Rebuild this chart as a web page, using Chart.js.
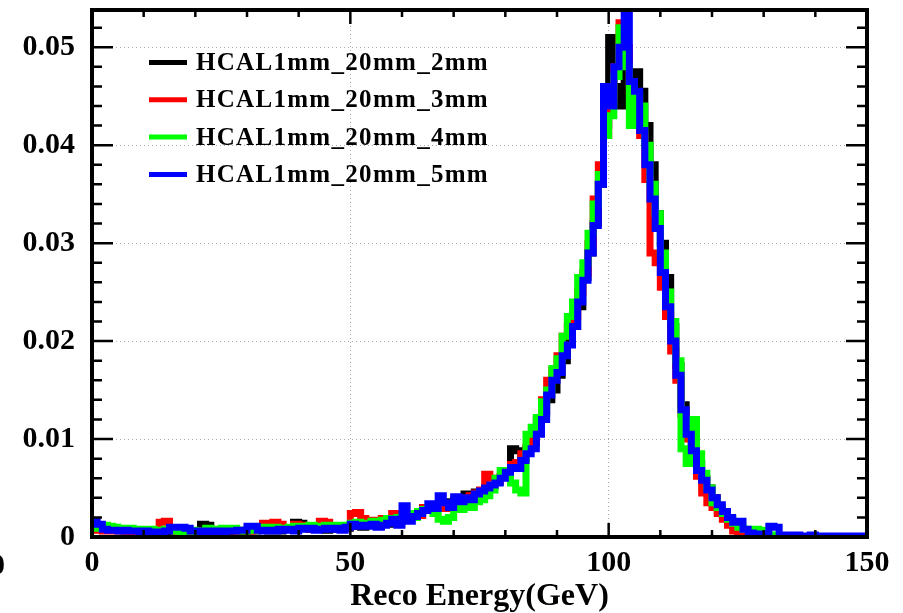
<!DOCTYPE html>
<html>
<head>
<meta charset="utf-8">
<script src="https://cdn.jsdelivr.net/npm/chart.js@4.4.1/dist/chart.umd.min.js"></script>
<style>
  body { margin: 0; background: #fff; }
  #wrap { width: 903px; height: 613px; }
</style>
</head>
<body>
<div id="wrap"><canvas id="histChart"></canvas></div>
<script>
// Reco energy histograms, 1 GeV bins from 0 to 150 GeV
const binStart = 0;
const binWidth = 1;

const seriesNames = ['HCAL1mm_20mm_2mm', 'HCAL1mm_20mm_3mm', 'HCAL1mm_20mm_4mm', 'HCAL1mm_20mm_5mm'];
const seriesColors = ['#000000', '#ff0000', '#00ff00', '#0000ff'];

const xTickLabels = ['0', '50', '100', '150'];
const yTickLabels = ['0', '0.01', '0.02', '0.03', '0.04', '0.05'];

const h2mm = [
  0.0012, 0.0010, 0.0009, 0.0008, 0.0007, 0.0007, 0.0006, 0.0006, 0.0007, 0.0006,
  0.0005, 0.0006, 0.0005, 0.0006, 0.0005, 0.0007, 0.0006, 0.0006, 0.0005, 0.0006,
  0.0005, 0.0013, 0.0012, 0.0006, 0.0005, 0.0006, 0.0005, 0.0007, 0.0006, 0.0005,
  0.0007, 0.0006, 0.0008, 0.0007, 0.0006, 0.0007, 0.0006, 0.0008, 0.0009, 0.0015,
  0.0014, 0.0009, 0.0008, 0.0010, 0.0008, 0.0007, 0.0009, 0.0008, 0.0010, 0.0009,
  0.0011, 0.0013, 0.0010, 0.0012, 0.0013, 0.0011, 0.0014, 0.0015, 0.0013, 0.0016,
  0.0018, 0.0020, 0.0022, 0.0026, 0.0030, 0.0028, 0.0033, 0.0030, 0.0036, 0.0032,
  0.0038, 0.0035, 0.0044, 0.0042, 0.0046, 0.0044, 0.0050, 0.0052, 0.0056, 0.0061,
  0.0064, 0.0090, 0.0088, 0.0080, 0.0090, 0.0096, 0.0120, 0.0128, 0.0140, 0.0150,
  0.0165, 0.0180, 0.0200, 0.0215, 0.0235, 0.0265, 0.0290, 0.0320, 0.0360, 0.0420,
  0.0510, 0.0460, 0.0440, 0.0490, 0.0470, 0.0475, 0.0455, 0.0420, 0.0380, 0.0330,
  0.0300, 0.0265, 0.0215, 0.0175, 0.0135, 0.0110, 0.0090, 0.0075, 0.0060, 0.0050,
  0.0040, 0.0030, 0.0024, 0.0018, 0.0012, 0.0006, 0.0003, 0.0002, 0.0001, 0.0001,
  0, 0, 0, 0, 0, 0, 0, 0, 0, 0,
  0, 0, 0, 0, 0, 0, 0, 0, 0, 0
];

const h3mm = [
  0.0008, 0.0007, 0.0006, 0.0007, 0.0006, 0.0007, 0.0006, 0.0005, 0.0006, 0.0005,
  0.0006, 0.0005, 0.0006, 0.0015, 0.0016, 0.0007, 0.0006, 0.0005, 0.0006, 0.0005,
  0.0006, 0.0005, 0.0006, 0.0005, 0.0006, 0.0005, 0.0006, 0.0007, 0.0006, 0.0007,
  0.0006, 0.0007, 0.0008, 0.0014, 0.0013, 0.0015, 0.0013, 0.0008, 0.0009, 0.0013,
  0.0012, 0.0009, 0.0008, 0.0011, 0.0016, 0.0015, 0.0010, 0.0009, 0.0011, 0.0010,
  0.0024, 0.0025, 0.0019, 0.0017, 0.0015, 0.0017, 0.0019, 0.0016, 0.0024, 0.0023,
  0.0020, 0.0021, 0.0024, 0.0022, 0.0030, 0.0028, 0.0032, 0.0030, 0.0029, 0.0034,
  0.0036, 0.0040, 0.0038, 0.0042, 0.0045, 0.0048, 0.0064, 0.0060, 0.0058, 0.0062,
  0.0068, 0.0074, 0.0076, 0.0085, 0.0092, 0.0100, 0.0112, 0.0140, 0.0160, 0.0170,
  0.0185, 0.0205, 0.0215, 0.0225, 0.0250, 0.0270, 0.0300, 0.0345, 0.0380, 0.0410,
  0.0450, 0.0480, 0.0525, 0.0500, 0.0455, 0.0440, 0.0410, 0.0365, 0.0290, 0.0280,
  0.0255, 0.0225, 0.0190, 0.0160, 0.0125, 0.0100, 0.0078, 0.0062, 0.0045, 0.0035,
  0.0030, 0.0024, 0.0018, 0.0012, 0.0006, 0.0002, 0.0001, 0, 0, 0,
  0, 0, 0, 0, 0, 0, 0, 0, 0, 0,
  0, 0, 0, 0, 0, 0, 0, 0, 0, 0
];

const h4mm = [
  0.0010, 0.0009, 0.0012, 0.0011, 0.0010, 0.0009, 0.0008, 0.0009, 0.0007, 0.0008,
  0.0007, 0.0008, 0.0006, 0.0007, 0.0008, 0.0007, 0.0006, 0.0005, 0.0006, 0.0007,
  0.0005, 0.0006, 0.0009, 0.0008, 0.0007, 0.0009, 0.0008, 0.0009, 0.0007, 0.0006,
  0.0008, 0.0007, 0.0009, 0.0010, 0.0009, 0.0010, 0.0009, 0.0008, 0.0010, 0.0011,
  0.0010, 0.0011, 0.0012, 0.0010, 0.0011, 0.0012, 0.0011, 0.0012, 0.0011, 0.0012,
  0.0014, 0.0015, 0.0013, 0.0014, 0.0016, 0.0015, 0.0017, 0.0019, 0.0016, 0.0020,
  0.0022, 0.0024, 0.0020, 0.0026, 0.0028, 0.0030, 0.0024, 0.0018, 0.0016, 0.0020,
  0.0032, 0.0028, 0.0034, 0.0030, 0.0036, 0.0038, 0.0042, 0.0048, 0.0060, 0.0068,
  0.0064, 0.0055, 0.0048, 0.0045, 0.0105, 0.0112, 0.0122, 0.0138, 0.0150, 0.0172,
  0.0182, 0.0205, 0.0225, 0.0240, 0.0265, 0.0280, 0.0310, 0.0340, 0.0370, 0.0410,
  0.0430, 0.0470, 0.0520, 0.0480, 0.0420, 0.0450, 0.0440, 0.0400, 0.0360, 0.0330,
  0.0290, 0.0250, 0.0220, 0.0180, 0.0090, 0.0075, 0.0120, 0.0085, 0.0065, 0.0050,
  0.0035, 0.0030, 0.0024, 0.0018, 0.0014, 0.0010, 0.0008, 0.0008, 0.0008, 0.0007,
  0.0005, 0.0002, 0.0001, 0, 0, 0, 0, 0, 0, 0,
  0, 0, 0, 0, 0, 0, 0, 0, 0, 0
];

const h5mm = [
  0.0016, 0.0013, 0.0008, 0.0007, 0.0007, 0.0006, 0.0007, 0.0006, 0.0006, 0.0005,
  0.0006, 0.0005, 0.0004, 0.0005, 0.0006, 0.0010, 0.0010, 0.0010, 0.0009, 0.0006,
  0.0006, 0.0005, 0.0006, 0.0005, 0.0006, 0.0005, 0.0006, 0.0006, 0.0007, 0.0007,
  0.0011, 0.0011, 0.0007, 0.0006, 0.0007, 0.0006, 0.0008, 0.0007, 0.0008, 0.0006,
  0.0009, 0.0008, 0.0009, 0.0007, 0.0008, 0.0009, 0.0008, 0.0009, 0.0007, 0.0010,
  0.0013, 0.0011, 0.0012, 0.0011, 0.0013, 0.0010, 0.0012, 0.0014, 0.0018, 0.0012,
  0.0032, 0.0016, 0.0021, 0.0024, 0.0027, 0.0034, 0.0029, 0.0042, 0.0035, 0.0030,
  0.0041, 0.0036, 0.0040, 0.0038, 0.0044, 0.0047, 0.0050, 0.0053, 0.0055, 0.0060,
  0.0066, 0.0071, 0.0070, 0.0078, 0.0085, 0.0090, 0.0105, 0.0120, 0.0145, 0.0160,
  0.0168, 0.0185, 0.0196, 0.0215, 0.0240, 0.0262, 0.0290, 0.0318, 0.0360, 0.0460,
  0.0440, 0.0480, 0.0500, 0.0538, 0.0465, 0.0455, 0.0415, 0.0380, 0.0345, 0.0315,
  0.0270, 0.0235, 0.0200, 0.0165, 0.0130, 0.0105, 0.0088, 0.0068, 0.0058, 0.0048,
  0.0040, 0.0033, 0.0026, 0.0020, 0.0015, 0.0016, 0.0008, 0.0004, 0.0003, 0.0003,
  0.0003, 0.0011, 0.0010, 0.0002, 0.0002, 0.0001, 0.0002, 0.0001, 0.0001, 0.0002,
  0.0001, 0.0001, 0.0001, 0.0001, 0.0001, 0.0001, 0.0001, 0.0001, 0.0001, 0.0001
];

const allSeries = [h2mm, h3mm, h4mm, h5mm];

const serif = 'Liberation Serif';

// bin low edges + closing point at the last upper edge
function toSteps(values) {
    const pts = values.map((v, i) => ({ x: binStart + i * binWidth, y: v }));
    pts.push({ x: binStart + values.length * binWidth, y: values[values.length - 1] });
    return pts;
}

// frame and inward ticks like ROOT
const frameTicks = {
    id: 'frameTicks',
    afterDatasetsDraw(chart) {
        const { ctx, chartArea: a, scales: { x, y } } = chart;
        ctx.save();
        ctx.strokeStyle = '#000';
        ctx.lineWidth = 2.5;
        ctx.beginPath();
        for (let v = 0; v <= 150; v += 10) {
            const px = x.getPixelForValue(v);
            const len = v % 50 === 0 ? 14 : 7;
            ctx.moveTo(px, a.bottom); ctx.lineTo(px, a.bottom - len);
            ctx.moveTo(px, a.top); ctx.lineTo(px, a.top + len);
        }
        for (let k = 0; k * 0.002 <= y.max; k++) {
            const py = y.getPixelForValue(k * 0.002);
            const len = k % 5 === 0 ? 21 : 10;
            ctx.moveTo(a.left, py); ctx.lineTo(a.left + len, py);
            ctx.moveTo(a.right, py); ctx.lineTo(a.right - len, py);
        }
        ctx.stroke();
        ctx.lineWidth = 4;
        ctx.strokeRect(a.left, a.top, a.right - a.left, a.bottom - a.top);

        // clipped label at the far left edge
        ctx.fillStyle = '#000';
        ctx.font = 'bold 30px "' + serif + '"';
        ctx.textAlign = 'right';
        ctx.textBaseline = 'middle';
        ctx.fillText('0', 5, 566);
        ctx.restore();
    }
};

const histLegend = {
    id: 'histLegend',
    afterDatasetsDraw(chart) {
        const ctx = chart.ctx;
        ctx.save();
        ctx.font = 'bold 25px "' + serif + '"';
        ctx.letterSpacing = '1.3px';
        ctx.textAlign = 'left';
        ctx.textBaseline = 'middle';
        seriesNames.forEach((name, i) => {
            const yy = 62.5 + i * 37.3;
            ctx.strokeStyle = seriesColors[i];
            ctx.lineWidth = 5;
            ctx.beginPath();
            ctx.moveTo(149, yy);
            ctx.lineTo(187, yy);
            ctx.stroke();
            ctx.fillStyle = '#000';
            ctx.fillText(name, 196, yy + 1);
        });
        ctx.restore();
    }
};

const ctx = document.getElementById('histChart').getContext('2d');

const chart = new Chart(ctx, {
    type: 'line',
    data: {
        datasets: allSeries.map((vals, i) => ({
            label: seriesNames[i],
            data: toSteps(vals),
            borderColor: seriesColors[i],
            backgroundColor: seriesColors[i],
            borderWidth: 7,
            pointRadius: 0,
            stepped: true,
            fill: false,
            clip: 0,
            order: allSeries.length - i
        }))
    },
    options: {
        responsive: true,
        maintainAspectRatio: false,
        animation: false,
        layout: { padding: { left: 0, right: 36, top: 10, bottom: 0 } },
        plugins: {
            legend: { display: false },
            tooltip: { enabled: false }
        },
        scales: {
            x: {
                type: 'linear',
                min: 0,
                max: 150,
                afterFit: s => {
                    s.height = 76;
                    s.paddingLeft = 0;
                    s.paddingRight = 0;
                },
                grid: { color: '#aaaaaa', lineWidth: 1, drawTicks: false },
                border: { display: false, dash: [1, 3] },
                ticks: {
                    stepSize: 50,
                    autoSkip: false,
                    maxRotation: 0,
                    padding: 8,
                    color: '#000',
                    font: { family: serif, weight: 'bold', size: 30 },
                    callback: (v, i) => xTickLabels[i]
                },
                title: {
                    display: true,
                    text: 'Reco Energy(GeV)',
                    color: '#000',
                    padding: { top: 0, bottom: 0 },
                    font: { family: serif, weight: 'bold', size: 32, lineHeight: 1 }
                }
            },
            y: {
                min: 0,
                max: 0.0538,
                afterFit: s => {
                    s.width = 92;
                    s.paddingTop = 0;
                    s.paddingBottom = 0;
                },
                grid: { color: '#aaaaaa', lineWidth: 1, drawTicks: false },
                border: { display: false, dash: [1, 3] },
                ticks: {
                    stepSize: 0.01,
                    includeBounds: false,
                    padding: 17,
                    color: '#000',
                    font: { family: serif, weight: 'bold', size: 30 },
                    callback: (v, i) => yTickLabels[i]
                }
            }
        }
    },
    plugins: [frameTicks, histLegend]
});
</script>
</body>
</html>
